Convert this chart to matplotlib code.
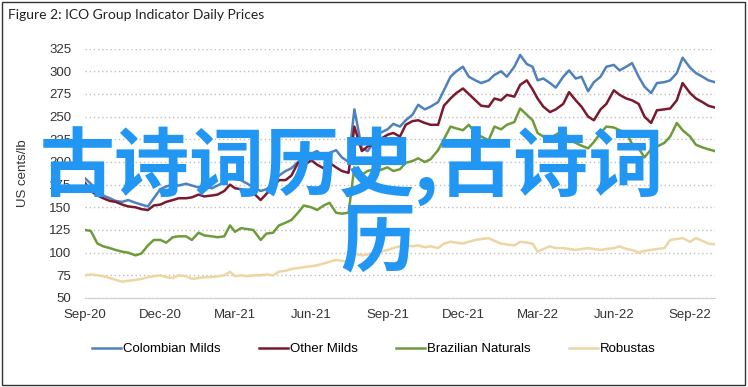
import matplotlib
matplotlib.use('Agg')
import matplotlib.pyplot as plt
import matplotlib.dates as mdates
from matplotlib.patches import Rectangle
import pandas as pd

# four readings per month (1st, 8th, 16th, 23rd), Sep-20 .. Sep-22, plus 1 Oct 2022
days = [1, 8, 16, 23]
dates = [pd.Timestamp(2020 + (8 + m) // 12, (8 + m) % 12 + 1, d) for m in range(25) for d in days]
dates.append(pd.Timestamp(2022, 10, 1))

colombian = [182, 176, 168, 163,  160, 157, 156, 158,  155, 153, 151, 160,
             170, 173, 175, 174,  176, 174, 172, 173,  171, 174, 178, 183,
             181, 180, 176, 172,  168, 170, 176, 185,  190, 193, 200, 205,
             209, 212, 205, 210,  213, 205, 200, 258,  215, 212, 222, 232,
             236, 242, 239, 246,  252, 263, 258, 261,  266, 279, 294, 300,
             305, 294, 290, 287,  290, 296, 300, 294,  305, 318, 308, 305,
             290, 292, 287, 282,  294, 301, 292, 294,  278, 288, 294, 305,
             307, 301, 305, 309,  294, 283, 276, 287,  288, 290, 298, 315,
             304, 298, 294, 290,  288]

other_milds = [177, 168, 163, 160,  157, 156, 153, 151,  150, 148, 147, 152,
               153, 156, 158, 160,  160, 161, 164, 162,  163, 164, 168, 175,
               171, 170, 167, 166,  158, 165, 172, 180,  180, 185, 199, 196,
               202, 197, 193, 199,  194, 190, 188, 239,  212, 217, 220, 225,
               230, 232, 228, 241,  245, 246, 243, 241,  241, 262, 270, 276,
               281, 275, 268, 262,  261, 270, 268, 274,  272, 285, 290, 280,
               270, 261, 255, 258,  264, 277, 268, 261,  250, 246, 258, 264,
               279, 274, 270, 268,  264, 250, 243, 257,  258, 259, 268, 287,
               276, 270, 266, 262,  260]

brazilian = [125, 124, 110, 107,  105, 103, 101, 100,  97, 99, 108, 114,
             114, 111, 117, 118,  118, 114, 122, 119,  118, 117, 118, 130,
             123, 127, 126, 125,  114, 121, 122, 130,  133, 136, 144, 152,
             150, 147, 152, 155,  144, 143, 144, 194,  186, 190, 192, 191,
             194, 190, 192, 199,  201, 204, 200, 203,  213, 225, 239, 237,
             235, 241, 232, 228,  224, 239, 236, 241,  244, 259, 252, 246,
             232, 228, 226, 230,  235, 224, 221, 218,  215, 222, 232, 239,
             238, 235, 232, 220,  215, 205, 214, 217,  221, 228, 243, 235,
             228, 219, 216, 214,  212]

robustas = [75, 76, 75, 74,  72, 70, 68, 69,  70, 71, 73, 74,
            75, 73, 72, 75,  74, 71, 72, 73,  73, 74, 75, 79,
            74, 75, 74, 75,  75, 76, 75, 79,  80, 82, 83, 84,
            85, 86, 88, 90,  92, 91, 90, 99,  97, 98, 100, 101,
            103, 105, 107, 108,  107, 108, 106, 107,  105, 110, 112, 111,
            110, 112, 114, 115,  116, 113, 110, 109,  108, 112, 111, 110,
            101, 104, 107, 105,  105, 104, 103, 104,  105, 104, 103, 104,
            105, 107, 104, 103,  100, 102, 103, 104,  105, 114, 115, 116,
            112, 116, 113, 110,  109]

series = ['Colombian Milds', 'Other Milds', 'Brazilian Naturals', 'Robustas']
colors = ['#4F81BD', '#7A1A2E', '#6E9C3A', '#EDD6A4']
y_ticks = [50, 75, 100, 125, 150, 175, 200, 225, 250, 275, 300, 325]

plt.rcParams['font.family'] = ['Liberation Sans', 'DejaVu Sans']

fig = plt.figure(figsize=(7.48, 3.87), dpi=100)
ax = fig.add_axes([0.1136, 0.2300, 0.8422, 0.6444])

for name, vals, c in zip(series, [colombian, other_milds, brazilian, robustas], colors):
    ax.plot(dates, vals, color=c, lw=1.8, label=name)

ax.set_ylim(50, 325)
ax.set_xlim(pd.Timestamp(2020, 9, 1), pd.Timestamp(2022, 10, 1))
ax.set_yticks(y_ticks)
ax.xaxis.set_major_locator(mdates.MonthLocator(bymonth=[3, 6, 9, 12]))
ax.xaxis.set_major_formatter(mdates.DateFormatter('%b-%y'))
ax.tick_params(length=0, labelsize=9.5, colors='#333333')
ax.tick_params(axis='x', pad=8)
ax.tick_params(axis='y', pad=10)
ax.grid(axis='y', color='#BFBFBF', lw=1, linestyle=(0, (1, 2)))
for s in ['top', 'right', 'left']:
    ax.spines[s].set_visible(False)
ax.spines['bottom'].set_color('#D0D0D0')
ax.set_ylabel('US cents/lb', fontsize=9.5, color='#333333', labelpad=14)

fig.legend(loc='center', bbox_to_anchor=(0.5, 1 - 349 / 387), ncol=4, frameon=False,
           fontsize=9.5, handlelength=2.2, handletextpad=0.15, columnspacing=2.9)

fig.text(0.011, 1 - 15 / 387, 'Figure 2: ICO Group Indicator Daily Prices',
         fontsize=10, va='center', family=['Lato', 'DejaVu Sans'], color='#222222')

fig.patches.append(Rectangle((0.003, 0.006), 0.993, 0.988, transform=fig.transFigure,
                             fill=False, ec='#333333', lw=1))

# watermark text over the chart
cjk = ['Noto Sans CJK SC', 'DejaVu Sans']
fig.text(40 / 748, 1 - 167 / 387, '古诗词历史,古诗词', fontsize=54, family=cjk,
         color='#2196F3', va='center', ha='left', weight='bold')
fig.text(340 / 748, 1 - 243 / 387, '历', fontsize=54, family=cjk,
         color='#2196F3', va='center', ha='left', weight='bold')

fig.savefig('out.png', dpi=100)
